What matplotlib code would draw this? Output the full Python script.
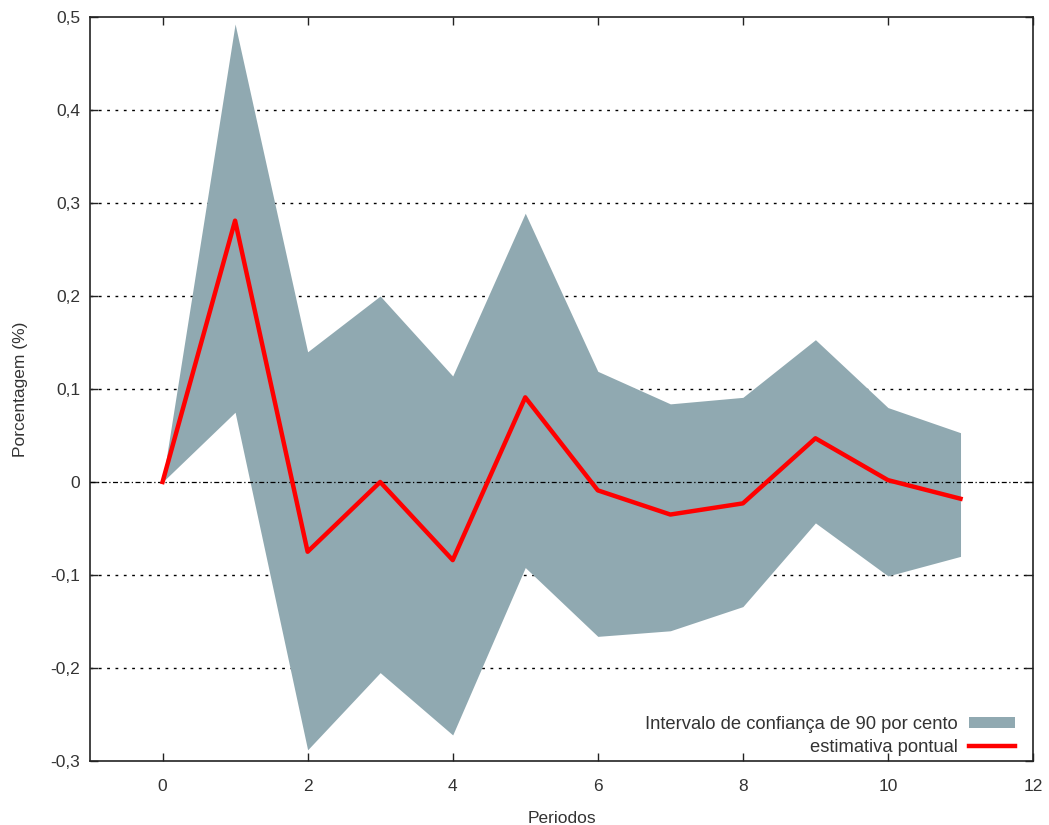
import matplotlib
matplotlib.use("Agg")
import matplotlib.pyplot as plt
from matplotlib.ticker import FuncFormatter

plt.rcParams['font.family'] = ['Liberation Sans', 'DejaVu Sans']

periods = [0, 1, 2, 3, 4, 5, 6, 7, 8, 9, 10, 11]
estimate = [0.0, 0.281, -0.075, 0.0, -0.084, 0.091, -0.009, -0.035, -0.023, 0.047, 0.002, -0.018]
upper = [0.0, 0.4925, 0.140, 0.200, 0.114, 0.289, 0.119, 0.084, 0.091, 0.153, 0.080, 0.053]
lower = [0.0, 0.075, -0.288, -0.205, -0.272, -0.092, -0.166, -0.160, -0.134, -0.044, -0.101, -0.080]
xticks = [0, 2, 4, 6, 8, 10, 12]
yticks = [-0.3, -0.2, -0.1, 0.0, 0.1, 0.2, 0.3, 0.4, 0.5]

TXT = '#333333'

fig = plt.figure(figsize=(10.49, 8.25), dpi=100)
ax = fig.add_axes([0.0858, 0.0776, 0.899, 0.9018])

for yv in yticks:
    if yv == 0.0 or yv in (-0.3, 0.5):
        continue
    ax.axhline(yv, color='black', lw=1.0, ls=(0, (2, 4)), zorder=1)

ax.fill_between(periods, lower, upper, color='#90a9b1', lw=0, zorder=2,
                label='Intervalo de confiança de 90 por cento')
ax.axhline(0.0, color='black', lw=0.9, ls=(0, (4, 2, 1, 2)), zorder=3)
ax.plot(periods, estimate, color='#ff0000', lw=3.2, zorder=4,
        label='estimativa pontual')

ax.set_xlim(-1, 12)
ax.set_ylim(-0.3, 0.5)
ax.set_xticks(xticks)
ax.set_yticks(yticks)

def fmt(v, pos):
    if abs(v) < 1e-9:
        return '0'
    return ('%.1f' % v).replace('.', ',')

ax.yaxis.set_major_formatter(FuncFormatter(fmt))
ax.tick_params(direction='in', length=6, width=1, top=True, right=True,
               labelsize=12.5, color='#222222', labelcolor=TXT)
ax.tick_params(axis='x', pad=13)
ax.tick_params(axis='y', pad=7)
for s in ax.spines.values():
    s.set_linewidth(1.2)
    s.set_color('#222222')

ax.set_xlabel('Periodos', fontsize=12.5, labelpad=12, color=TXT)
ax.set_ylabel('Porcentagem (%)', fontsize=12.5, labelpad=16, color=TXT)

leg = ax.legend(loc='lower right', bbox_to_anchor=(0.981, 0.007), frameon=False,
                markerfirst=False, fontsize=13.2, handlelength=2.5,
                handleheight=0.5, handletextpad=0.65, labelspacing=0.32,
                borderpad=0, borderaxespad=0)
for t in leg.get_texts():
    t.set_color(TXT)

fig.savefig('out.png', dpi=100)
